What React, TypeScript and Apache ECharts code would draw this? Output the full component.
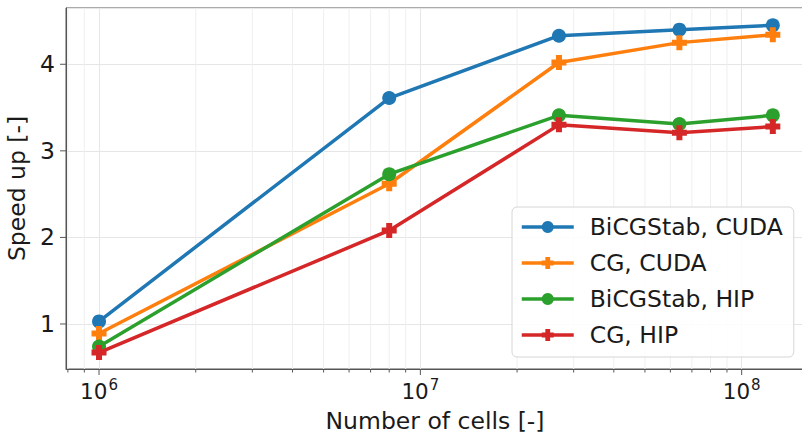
import React, { useEffect, useRef } from "react";
import * as echarts from "echarts";

// Number of cells (x, log scale)
const cells = [1e6, 8e6, 2.7e7, 6.4e7, 1.25e8];
// Speed up [-]
const bicgCuda = [1.03, 3.61, 4.33, 4.4, 4.45];
const cgCuda = [0.89, 2.62, 4.02, 4.25, 4.34];
const bicgHip = [0.74, 2.73, 3.41, 3.31, 3.41];
const cgHip = [0.67, 2.08, 3.3, 3.21, 3.28];
const seriesNames = ["BiCGStab, CUDA", "CG, CUDA", "BiCGStab, HIP", "CG, HIP"];
const seriesColors = ["#1f77b4", "#ff7f0e", "#2ca02c", "#d62728"];
// major ticks
const xMajorTicks = [1e6, 1e7, 1e8];
const yMajorTicks = [1, 2, 3, 4];
// minor log ticks
const minorTickValues = [
  8e5, 9e5, 2e6, 3e6, 4e6, 5e6, 6e6, 7e6, 8e6, 9e6,
  2e7, 3e7, 4e7, 5e7, 6e7, 7e7, 8e7, 9e7,
];

const FONT = "DejaVu Sans";
const PLUS = "path://M3,0H7V3H10V7H7V10H3V7H0V3H3Z";
const AXIS = "#555555";

export default function App() {
  const ref = useRef<HTMLDivElement>(null);
  useEffect(() => {
    if (!ref.current) return;
    const chart = echarts.init(ref.current, undefined, { renderer: "svg" });
    const seriesData = [bicgCuda, cgCuda, bicgHip, cgHip];
    const symbols = ["circle", PLUS, "circle", PLUS];
    const lines = seriesData.map((vals, i) => ({
      type: "line",
      name: seriesNames[i],
      data: cells.map((c, j) => [c, vals[j]]),
      symbol: symbols[i],
      symbolSize: i % 2 === 0 ? 14 : 15,
      showSymbol: true,
      z: 3 + i,
      lineStyle: { width: 3.5, color: seriesColors[i] },
      itemStyle: { color: seriesColors[i] },
      emphasis: { disabled: true },
    }));
    chart.setOption({
      animation: false,
      grid: {
        left: 66,
        top: 8,
        width: 738,
        height: 361,
        containLabel: false,
        outerBoundsMode: "none",
        show: true,
        borderColor: AXIS,
        borderWidth: 1,
        backgroundColor: "transparent",
      },
      legend: {
        data: seriesNames,
        orient: "vertical",
        left: 512,
        top: 207,
        padding: [8, 11, 10, 8],
        itemGap: 12,
        itemWidth: 52,
        itemHeight: 15,
        lineStyle: { width: 3.5 },
        backgroundColor: "rgba(255,255,255,0.85)",
        borderColor: "#d6d6d6",
        borderWidth: 1,
        borderRadius: 5,
        textStyle: {
          fontFamily: FONT,
          fontSize: 23.5,
          lineHeight: 24,
          color: "#1a1a1a",
          padding: [0, 0, 0, 11],
        },
      },
      xAxis: {
        type: "log",
        logBase: 10,
        min: 7.893e5,
        max: 1.563e8,
        name: "Number of cells [-]",
        nameLocation: "middle",
        nameGap: 36,
        nameTextStyle: { fontFamily: FONT, fontSize: 23.5, color: "#1a1a1a" },
        axisLine: { show: true, lineStyle: { color: AXIS, width: 1 } },
        axisTick: { show: false },
        axisLabel: {
          margin: 10,
          color: "#1a1a1a",
          fontFamily: FONT,
          formatter: (v: number) => {
            const e = Math.log10(v);
            const r = Math.round(e);
            if (Math.abs(e - r) > 1e-6) return "";
            return "{b|10}{s|" + r + "}";
          },
          rich: {
            b: { fontFamily: FONT, fontSize: 21.5, lineHeight: 24, color: "#1a1a1a" },
            s: { fontFamily: FONT, fontSize: 15, lineHeight: 24, color: "#1a1a1a", padding: [0, 0, 12, 1] },
          },
        },
        splitLine: { show: true, lineStyle: { color: "#e6e6e6", width: 1 } },
        minorTick: { show: false },
      },
      yAxis: {
        type: "value",
        min: 0.48,
        max: 4.65,
        splitNumber: 4,
        name: "Speed up [-]",
        nameLocation: "middle",
        nameGap: 28,
        nameRotate: 90,
        nameTextStyle: { fontFamily: FONT, fontSize: 23.5, color: "#1a1a1a" },
        axisLine: { show: true, lineStyle: { color: AXIS, width: 1 } },
        axisTick: { show: false },
        axisLabel: {
          margin: 11,
          fontFamily: FONT,
          fontSize: 23.5,
          color: "#1a1a1a",
          formatter: (v: number) => (Math.abs(v - Math.round(v)) < 1e-6 ? String(Math.round(v)) : ""),
        },
        splitLine: { show: true, lineStyle: { color: "#e6e6e6", width: 1 } },
      },
      series: [
        {
          type: "custom",
          name: "minorX",
          silent: true,
          clip: false,
          z: 1,
          data: minorTickValues.map((v) => [v, 1]),
          encode: { x: 0, y: 1 },
          renderItem: (params: any, api: any) => {
            const x = api.coord([api.value(0), api.value(1)])[0];
            const cs = params.coordSys;
            const bottom = cs.y + cs.height;
            return {
              type: "group",
              children: [
                {
                  type: "line",
                  shape: { x1: x, y1: cs.y, x2: x, y2: bottom },
                  style: { stroke: "#efefef", lineWidth: 1 },
                },
                {
                  type: "line",
                  shape: { x1: x, y1: bottom, x2: x, y2: bottom + 3.5 },
                  style: { stroke: AXIS, lineWidth: 1 },
                },
              ],
            };
          },
        },
        {
          type: "custom",
          name: "majorX",
          silent: true,
          clip: false,
          z: 1,
          data: xMajorTicks.map((v) => [v, 1]),
          encode: { x: 0, y: 1 },
          renderItem: (params: any, api: any) => {
            const x = api.coord([api.value(0), api.value(1)])[0];
            const cs = params.coordSys;
            const bottom = cs.y + cs.height;
            return {
              type: "line",
              shape: { x1: x, y1: bottom, x2: x, y2: bottom + 6 },
              style: { stroke: AXIS, lineWidth: 1 },
            };
          },
        },
        {
          type: "custom",
          name: "majorY",
          silent: true,
          clip: false,
          z: 1,
          data: yMajorTicks.map((v) => [1e6, v]),
          encode: { x: 0, y: 1 },
          renderItem: (params: any, api: any) => {
            const y = api.coord([api.value(0), api.value(1)])[1];
            const cs = params.coordSys;
            return {
              type: "line",
              shape: { x1: cs.x - 6, y1: y, x2: cs.x, y2: y },
              style: { stroke: AXIS, lineWidth: 1 },
            };
          },
        },
        ...lines,
      ],
    });
    return () => chart.dispose();
  }, []);
  return <div ref={ref} style={{ width: 802, height: 433, position: "absolute", left: 0, top: 0, background: "#fff" }} />;
}
